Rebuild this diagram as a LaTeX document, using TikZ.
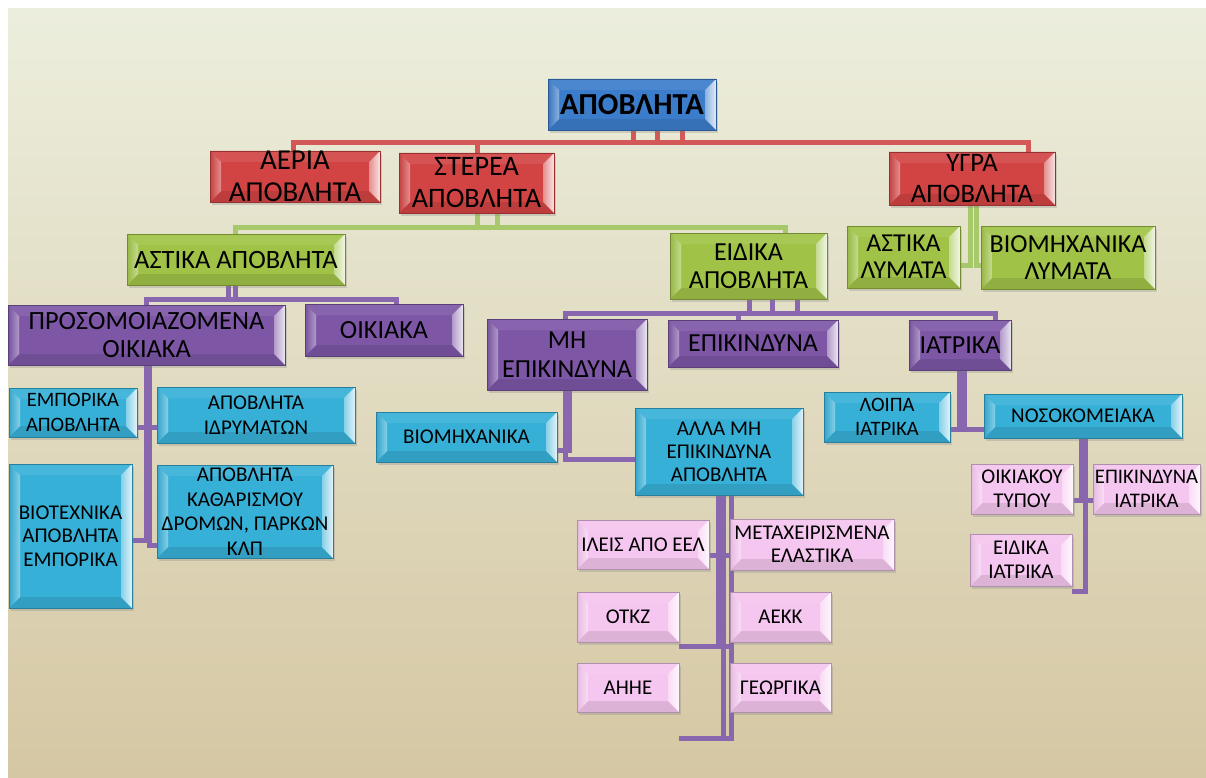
\documentclass[tikz,border=0pt]{standalone}
\usepackage{fontspec}
\setmainfont{Carlito}
\usetikzlibrary{shadows}
\pgfdeclarelayer{back}
\pgfdeclarelayer{lines}
\pgfsetlayers{back,lines,main}
\definecolor{cBlue}{HTML}{3C7DCB}
\definecolor{cRed}{HTML}{D24444}
\definecolor{cGreen}{HTML}{A0C347}
\definecolor{cPurple}{HTML}{7D57A6}
\definecolor{cCyan}{HTML}{37B0D8}
\definecolor{cPink}{HTML}{F5C6EF}
\definecolor{lRed}{HTML}{D35858}
\definecolor{lGreen}{HTML}{A8C86C}
\definecolor{lPurple}{HTML}{8867AE}
\definecolor{bgTop}{HTML}{ECEEDD}
\definecolor{bgBot}{HTML}{D5C7A3}
\newcommand\myfs[2]{\fontsize{#1}{#2}\selectfont}
\newcommand\bx[8]{\node[bev=#2, minimum width={(#5)-(#3)}, minimum height={(#6)-(#4)}, font=#7] (#1) at ({((#3)+(#5))/2},{((#4)+(#6))/2}) {#8};}
\tikzset{
  bevw/.store in=\bevw, bevw=11pt,
  bev/.style={fill=#1, draw=#1!72!black, line width=0.6pt, inner sep=0pt, align=center, text=black,
    drop shadow={shadow xshift=2pt,shadow yshift=-3pt,opacity=0.28},
    path picture={
      \fill[#1!92!white] (path picture bounding box.north west) -- (path picture bounding box.north east) -- ([shift={(-\bevw,-\bevw)}]path picture bounding box.north east) -- ([shift={(\bevw,-\bevw)}]path picture bounding box.north west) -- cycle;
      \fill[#1!90!black] (path picture bounding box.south west) -- (path picture bounding box.south east) -- ([shift={(-\bevw,\bevw)}]path picture bounding box.south east) -- ([shift={(\bevw,\bevw)}]path picture bounding box.south west) -- cycle;
      \shade[left color=#1!94!black, right color=#1!60!white] (path picture bounding box.north west) -- ([shift={(\bevw,-\bevw)}]path picture bounding box.north west) -- ([shift={(\bevw,\bevw)}]path picture bounding box.south west) -- (path picture bounding box.south west) -- cycle;
      \shade[left color=#1!60!white, right color=#1!15!white] (path picture bounding box.north east) -- ([shift={(-\bevw,-\bevw)}]path picture bounding box.north east) -- ([shift={(-\bevw,\bevw)}]path picture bounding box.south east) -- (path picture bounding box.south east) -- cycle;
    }},
  rline/.style={line width=5pt, draw=lRed},
  gline/.style={line width=5pt, draw=lGreen},
  pline/.style={line width=5pt, draw=lPurple}
}
\begin{document}
\begin{tikzpicture}[x=1pt,y=-1pt]
\useasboundingbox (0,0) rectangle (1206,778);
\begin{pgfonlayer}{back}
  \fill[white] (0,0) rectangle (1206,778);
  \shade[top color=bgTop, bottom color=bgBot] (8,9) rectangle (1206,778);
\end{pgfonlayer}
% boxes
\bx{apo}{cBlue}{548}{79}{716}{130}{\bfseries\myfs{30.5}{34}}{ΑΠΟΒΛΗΤΑ}
\bx{aer}{cRed}{210}{151}{380}{202}{\myfs{28.9}{31.5}}{ΑΕΡΙΑ\\ΑΠΟΒΛΗΤΑ}
\bx{ster}{cRed}{399}{153}{554}{213}{\myfs{28.2}{32}}{ΣΤΕΡΕΑ\\ΑΠΟΒΛΗΤΑ}
\bx{yg}{cRed}{889}{152}{1055}{205}{\myfs{26.7}{31}}{ΥΓΡΑ\\ΑΠΟΒΛΗΤΑ}
\bx{ast}{cGreen}{127}{234}{345}{285}{\myfs{26.5}{30}}{ΑΣΤΙΚΑ ΑΠΟΒΛΗΤΑ}
\bx{eid}{cGreen}{670}{233}{827}{299}{\myfs{26}{28.5}}{ΕΙΔΙΚΑ\\ΑΠΟΒΛΗΤΑ}
\bx{al}{cGreen}{847}{226}{960}{288}{\myfs{25.8}{27}}{ΑΣΤΙΚΑ\\ΛΥΜΑΤΑ}
\bx{bl}{cGreen}{981}{226}{1155}{289}{\myfs{26}{27}}{ΒΙΟΜΗΧΑΝΙΚΑ\\ΛΥΜΑΤΑ}
\bx{pros}{cPurple}{8}{305}{285}{365}{\myfs{26.3}{28}}{ΠΡΟΣΟΜΟΙΑΖΟΜΕΝΑ\\ΟΙΚΙΑΚΑ}
\bx{oik}{cPurple}{305}{304}{463}{356}{\myfs{26.2}{30}}{ΟΙΚΙΑΚΑ}
\bx{mh}{cPurple}{487}{319}{647}{390}{\myfs{26}{29}}{ΜΗ\\ΕΠΙΚΙΝΔΥΝΑ}
\bx{epi}{cPurple}{668}{320}{838}{367}{\myfs{26}{30}}{ΕΠΙΚΙΝΔΥΝΑ}
\bx{iat}{cPurple}{909}{320}{1011}{370}{\myfs{26}{30}}{ΙΑΤΡΙΚΑ}
\bx{emp}{cCyan}{9}{388}{137}{437}{\myfs{20.5}{25}}{ΕΜΠΟΡΙΚΑ\\ΑΠΟΒΛΗΤΑ}
\bx{idr}{cCyan}{157}{387}{355}{443}{\myfs{21}{24.5}}{ΑΠΟΒΛΗΤΑ\\ΙΔΡΥΜΑΤΩΝ}
\bx{biot}{cCyan}{9}{464}{132}{608}{\myfs{21}{23.5}}{ΒΙΟΤΕΧΝΙΚΑ\\ΑΠΟΒΛΗΤΑ\\ΕΜΠΟΡΙΚΑ}
\bx{kath}{cCyan}{157}{465}{333}{558}{\myfs{21}{24.5}}{ΑΠΟΒΛΗΤΑ\\ΚΑΘΑΡΙΣΜΟΥ\\ΔΡΟΜΩΝ, ΠΑΡΚΩΝ\\ΚΛΠ}
\bx{biom}{cCyan}{376}{412}{557}{462}{\myfs{21}{25}}{ΒΙΟΜΗΧΑΝΙΚΑ}
\bx{alla}{cCyan}{635}{408}{803}{495}{\myfs{21}{23}}{ΑΛΛΑ ΜΗ\\ΕΠΙΚΙΝΔΥΝΑ\\ΑΠΟΒΛΗΤΑ}
\bx{loipa}{cCyan}{824}{392}{950}{442}{\myfs{20.5}{24}}{ΛΟΙΠΑ\\ΙΑΤΡΙΚΑ}
\bx{nos}{cCyan}{984}{394}{1182}{438}{\myfs{21}{25}}{ΝΟΣΟΚΟΜΕΙΑΚΑ}
\bx{ileis}{cPink}{577}{520}{709}{569}{\myfs{21}{25}}{ΙΛΕΙΣ ΑΠΟ ΕΕΛ}
\bx{meta}{cPink}{730}{519}{894}{570}{\myfs{21}{23}}{ΜΕΤΑΧΕΙΡΙΣΜΕΝΑ\\ΕΛΑΣΤΙΚΑ}
\bx{otkz}{cPink}{577}{592}{679}{642}{\myfs{21}{25}}{ΟΤΚΖ}
\bx{aekk}{cPink}{730}{592}{831}{642}{\myfs{21}{25}}{ΑΕΚΚ}
\bx{ahhe}{cPink}{577}{663}{679}{712}{\myfs{21}{25}}{ΑΗΗΕ}
\bx{geo}{cPink}{730}{663}{831}{712}{\myfs{21}{25}}{ΓΕΩΡΓΙΚΑ}
\bx{oikt}{cPink}{971}{464}{1073}{514}{\myfs{21}{24}}{ΟΙΚΙΑΚΟΥ\\ΤΥΠΟΥ}
\bx{epiat}{cPink}{1093}{464}{1200}{514}{\myfs{20.7}{24}}{ΕΠΙΚΙΝΔΥΝΑ\\ΙΑΤΡΙΚΑ}
\bx{eidiat}{cPink}{970}{534}{1072}{586}{\myfs{21}{24}}{ΕΙΔΙΚΑ\\ΙΑΤΡΙΚΑ}
% connectors
\begin{pgfonlayer}{lines}
\draw[rline] (apo.south -| 633,0) -- (633,143) -| (aer.north -| 293,0);
\draw[rline] (apo.south -| 682,0) -- (682,143) -| (ster.north -| 477,0);
\draw[rline] (apo.south -| 657,0) -- (657,143) -| (yg.north -| 1028,0);
\draw[gline] (ster.south -| 497,0) -- (497,227) -| (ast.north -| 235,0);
\draw[gline] (ster.south -| 477,0) -- (477,227) -| (eid.north -| 785,0);
\draw[gline] (yg.south -| 970,0) |- (al.east |- 0,265);
\draw[gline] (yg.south -| 976,0) |- (bl.west |- 0,265);
\draw[pline] (ast.south -| 235,0) -- (235,299) -| (pros.north -| 146,0);
\draw[pline] (ast.south -| 228,0) -- (228,299) -| (oik.north -| 396,0);
\draw[pline] (pros.south -| 146,0) |- (emp.east |- 0,427);
\draw[pline] (pros.south -| 149,0) |- (idr.west |- 0,427);
\draw[pline] (pros.south -| 146,0) |- (biot.east |- 0,540.5);
\draw[pline] (pros.south -| 149,0) |- (kath.west |- 0,545.5);
\draw[pline] (eid.south -| 797.5,0) -- (797.5,313) -| (mh.north -| 565.5,0);
\draw[pline] (eid.south -| 772.5,0) -- (772.5,313) -| (epi.north -| 738.5,0);
\draw[pline] (eid.south -| 749.5,0) -- (749.5,313) -| (iat.north -| 995.5,0);
\draw[pline] (mh.south -| 565.5,0) |- (alla.west |- 0,459.5);
\draw[pline] (mh.south -| 569.5,0) |- (biom.east |- 0,450);
\draw[pline] (iat.south -| 959.5,0) |- (loipa.east |- 0,429.5);
\draw[pline] (iat.south -| 964.5,0) |- (nos.west |- 0,429.5);
\draw[pline] (nos.south -| 1081.5,0) |- (oikt.east |- 0,500.5);
\draw[pline] (nos.south -| 1085.5,0) |- (epiat.west |- 0,500.5);
\draw[pline] (nos.south -| 1085.5,0) |- (eidiat.east |- 0,591.5);
\draw[pline] (alla.south -| 718,0) |- (ileis.east |- 0,555.5);
\draw[pline] (alla.south -| 723,0) |- (meta.west |- 0,555.5);
\draw[pline] (alla.south -| 718,0) |- (otkz.east |- 0,646.5);
\draw[pline] (alla.south -| 723,0) |- (aekk.west |- 0,646.5);
\draw[pline] (alla.south -| 731.5,0) |- (ahhe.east |- 0,738.5);
\draw[pline] (alla.south -| 723,0) |- (geo.west |- 0,738.5);
\end{pgfonlayer}
\end{tikzpicture}
\end{document}
